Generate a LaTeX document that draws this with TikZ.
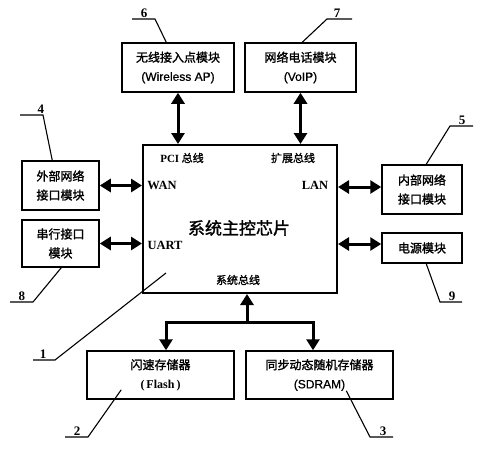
\documentclass[tikz,border=0pt]{standalone}
\usepackage{fontspec}
\setmainfont{Liberation Serif}
\newfontfamily\cjk[FakeBold=1.6]{Noto Sans CJK SC}
\newfontfamily\arial[FakeBold=0.8]{Liberation Sans}
\usetikzlibrary{arrows.meta,calc}
\begin{document}
\begin{tikzpicture}[x=1pt,y=-1pt,
  box/.style={draw,line width=1.5pt,inner sep=0pt,align=center,font=\fontsize{12}{19}\selectfont},
  mainbox/.style={draw,line width=2pt,inner sep=0pt},
  biarrow/.style={line width=3pt,{Triangle[width=13pt,length=11pt]}-{Triangle[width=13pt,length=11pt]}},
  uparrow/.style={line width=3pt,-{Triangle[width=13pt,length=11pt]}},
  busline/.style={line width=3pt},
  leader/.style={line width=1.1pt},
  num/.style={font=\fontsize{13}{13}\selectfont\bfseries},
  lbl/.style={font=\fontsize{12.5}{12.5}\selectfont\bfseries},
  clbl/.style={font=\fontsize{11}{11}\selectfont\cjk}]
\useasboundingbox (0,0) rectangle (480,450);
% main chip
\node[mainbox,minimum width=194,minimum height=148] (main) at (240,219) {};
\node[clbl] (pci) at (182,158) {{\rmfamily\bfseries PCI} 总线};
\node[clbl] (ext) at (293,158) {扩展总线};
\node[lbl] (wan) at (162,185) {WAN};
\node[lbl] (lan) at (315,185) {LAN};
\node[lbl] (uart) at (165,245) {UART};
\node[font=\fontsize{17}{17}\selectfont\cjk] (chip) at (239,228) {系统主控芯片};
\node[clbl] (sysbus) at (238,280) {系统总线};
% outer boxes
\node[box,minimum width=112,minimum height=49] (ap) at (178,67.5) {\cjk 无线接入点模块\\\arial (Wireless AP)};
\node[box,minimum width=111,minimum height=49] (voip) at (300.5,67.5) {\cjk 网络电话模块\\\arial (VoIP)};
\node[box,minimum width=77,minimum height=49] (extn) at (60.5,185.5) {\cjk 外部网络\\\cjk 接口模块};
\node[box,minimum width=77,minimum height=47] (serial) at (60.5,243.5) {\cjk 串行接口\\\cjk 模块};
\node[box,minimum width=80,minimum height=49] (intn) at (422,189.5) {\cjk 内部网络\\\cjk 接口模块};
\node[box,minimum width=80,minimum height=30] (power) at (422,248) {\cjk 电源模块};
\node[box,minimum width=147,minimum height=48] (flash) at (160.5,375) {\cjk 闪速存储器\\\bfseries (\,Flash\,)};
\node[box,minimum width=147,minimum height=48] (sdram) at (319.5,375) {\cjk 同步动态随机存储器\\\arial (SDRAM)};
% arrows
\draw[biarrow] (ap.south) -- (ap.south |- main.north);
\draw[biarrow] (voip.south) -- (voip.south |- main.north);
\draw[biarrow] (extn.east) -- (extn.east -| main.west);
\draw[biarrow] (serial.east) -- (serial.east -| main.west);
\coordinate (lanY) at (0,187);
\coordinate (pwrY) at (0,244);
\draw[biarrow] (main.east |- lanY) -- (intn.west |- lanY);
\draw[biarrow] (main.east |- pwrY) -- (power.west |- pwrY);
% system bus
\coordinate (bj) at (247,322);
\coordinate (bl) at (166,322);
\coordinate (br) at (313,322);
\draw[uparrow] (bj) -- (bj |- main.south);
\draw[busline,line cap=rect] (bl) -- (br);
\draw[uparrow] (bl) -- (bl |- flash.north);
\draw[uparrow] (br) -- (br |- sdram.north);
% leaders
\coordinate (l6a) at (132,19); \coordinate (l6b) at (155,19);
\draw[leader] (l6a) -- (l6b) -- ($(ap.north west)+(45,0)$);
\node[num] (n6) at (144,13) {6};
\coordinate (l7a) at (327,19); \coordinate (l7b) at (352,19);
\draw[leader] (l7b) -- (l7a) -- ($(voip.north west)+(58,0)$);
\node[num] (n7) at (337,13) {7};
\coordinate (l4a) at (20,115); \coordinate (l4b) at (43,115);
\draw[leader] (l4a) -- (l4b) -- ($(extn.north west)+(31,0)$);
\node[num] (n4) at (41,109) {4};
\coordinate (l8a) at (10,302); \coordinate (l8b) at (33,302);
\draw[leader] (l8a) -- (l8b) -- ($(serial.south west)+(40,0)$);
\node[num] (n8) at (22,296) {8};
\coordinate (l5a) at (450,126); \coordinate (l5b) at (473,126);
\draw[leader] (l5b) -- (l5a) -- ($(intn.north west)+(45,0)$);
\node[num] (n5) at (462,120) {5};
\coordinate (l9a) at (440,302); \coordinate (l9b) at (462,302);
\draw[leader] (l9b) -- (l9a) -- ($(power.south west)+(45,0)$);
\node[num] (n9) at (452,296) {9};
\coordinate (l1a) at (33,360); \coordinate (l1b) at (55,360);
\draw[leader] (l1a) -- (l1b) -- ($(main.south west)+(24,-21)$);
\node[num] (n1) at (43,354) {1};
\coordinate (l2a) at (65,437); \coordinate (l2b) at (88,437);
\draw[leader] (l2a) -- (l2b) -- ($(flash.south west)+(35,-10)$);
\node[num] (n2) at (77,431) {2};
\coordinate (l3a) at (370,437); \coordinate (l3b) at (393,437);
\draw[leader] (l3b) -- (l3a) -- ($(sdram.south west)+(101,-9)$);
\node[num] (n3) at (383,431) {3};
\end{tikzpicture}
\end{document}
